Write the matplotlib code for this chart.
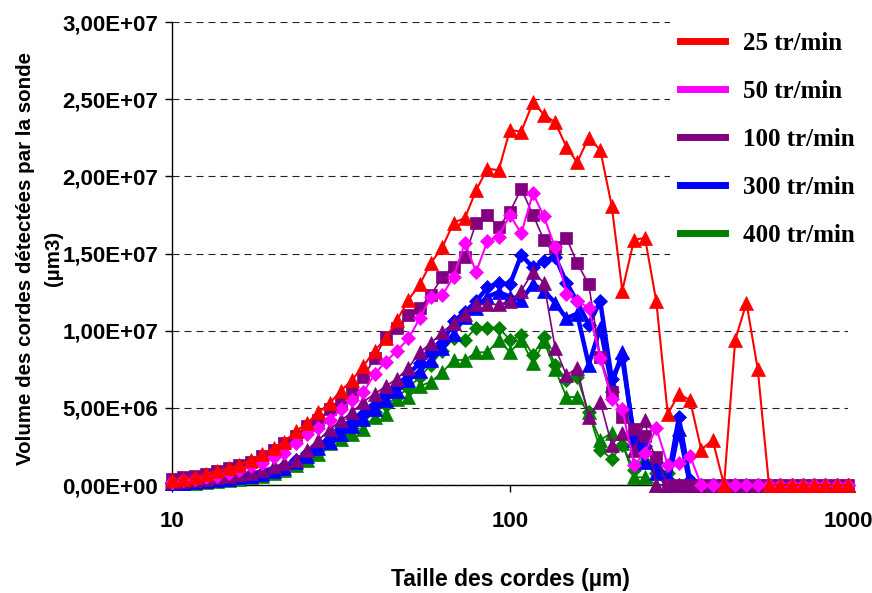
import matplotlib
matplotlib.use("Agg")
import matplotlib.pyplot as plt
from matplotlib.lines import Line2D
from matplotlib.ticker import NullLocator
from matplotlib.font_manager import FontProperties

# chord size channels (um), log spaced
x_um = [10.0, 10.8, 11.7, 12.6, 13.6, 14.7, 15.8, 17.1, 18.5, 20.0,
        21.5, 23.3, 25.1, 27.1, 29.3, 31.6, 34.1, 36.8, 39.8, 42.9,
        46.4, 50.1, 54.1, 58.4, 63.1, 68.1, 73.6, 79.4, 85.8, 92.6,
        100, 108, 117, 126, 136, 147, 158, 171, 185, 200,
        215, 233, 251, 271, 293, 316, 341, 368, 398, 430,
        464, 501, 541, 584, 631, 681, 736, 794, 858, 926, 1000]

# volumes in millions of um3
v_25 = [0.3, 0.4, 0.5, 0.7, 0.9, 1.1, 1.3, 1.6, 2.0, 2.4,
        2.8, 3.5, 4.0, 4.7, 5.3, 6.1, 6.8, 7.7, 8.7, 9.5,
        10.7, 12.0, 13.0, 14.4, 15.4, 17.0, 17.3, 19.1, 20.5, 20.4,
        23.0, 22.9, 24.8, 24.0, 23.5, 21.9, 20.9, 22.5, 21.7, 18.1,
        12.6, 15.9, 16.0, 11.9, 4.6, 5.9, 5.5, 2.3, 2.9, 0.0,
        9.4, 11.8, 7.5, 0.0, 0.0, 0.0, 0.0, 0.0, 0.0, 0.0, 0.0]
v_50 = [0.2, 0.3, 0.4, 0.5, 0.6, 0.8, 1.0, 1.2, 1.4, 1.8,
        2.1, 2.7, 3.3, 3.7, 4.2, 4.9, 5.5, 6.0, 7.2, 8.0,
        8.7, 9.5, 10.8, 12.2, 12.3, 13.5, 15.7, 13.8, 15.8, 16.1,
        17.5, 16.3, 18.9, 17.4, 15.4, 12.4, 11.9, 11.5, 8.2, 5.6,
        4.9, 1.3, 2.1, 3.7, 1.3, 1.4, 1.9, 0.0, 0.0, 0.0,
        0.0, 0.0, 0.0, 0.0, 0.0, 0.0, 0.0, 0.0, 0.0, 0.0, 0.0]
v_100a = [0.4, 0.5, 0.6, 0.7, 0.9, 1.1, 1.3, 1.5, 1.9, 2.3,
          2.7, 3.2, 3.8, 4.2, 4.9, 5.4, 6.0, 7.0, 8.2, 9.6,
          10.2, 11.0, 11.5, 12.3, 13.5, 14.1, 14.8, 17.0, 17.5, 16.7,
          17.7, 19.2, 17.5, 15.9, 15.4, 16.0, 14.4, 13.0, 8.3, 6.0,
          4.4, 3.6, 3.2, 1.8, 0.0, 0.0, 0.0, 0.0, 0.0, 0.0,
          0.0, 0.0, 0.0, 0.0, 0.0, 0.0, 0.0, 0.0, 0.0, 0.0, 0.0]
v_100b = [0.2, 0.25, 0.3, 0.4, 0.5, 0.6, 0.7, 0.8, 1.0, 1.2,
          1.4, 1.6, 2.3, 2.9, 3.6, 4.2, 4.7, 5.4, 5.9, 6.4,
          6.9, 7.6, 8.6, 9.2, 9.9, 10.5, 11.1, 11.7, 11.7, 11.7,
          11.9, 12.6, 13.8, 13.1, 8.9, 7.1, 7.6, 4.4, 5.4, 2.6,
          3.4, 2.3, 4.2, 0.0, 0.0, 0.0, 0.0, 0.0, 0.0, 0.0,
          0.0, 0.0, 0.0, 0.0, 0.0, 0.0, 0.0, 0.0, 0.0, 0.0, 0.0]
v_300a = [0.15, 0.2, 0.25, 0.3, 0.4, 0.5, 0.6, 0.7, 0.8, 1.0,
          1.2, 1.6, 2.1, 2.6, 3.0, 3.6, 4.1, 4.6, 5.2, 5.9,
          6.4, 7.2, 7.9, 8.6, 9.2, 10.6, 11.2, 11.9, 12.8, 13.1,
          13.0, 14.9, 14.1, 14.5, 14.8, 13.1, 11.9, 10.4, 11.9, 6.9,
          8.2, 3.1, 2.5, 1.5, 0.3, 4.4, 0.3, 0.0, 0.0, 0.0,
          0.0, 0.0, 0.0, 0.0, 0.0, 0.0, 0.0, 0.0, 0.0, 0.0, 0.0]
v_300b = [0.1, 0.15, 0.2, 0.25, 0.3, 0.4, 0.5, 0.6, 0.7, 0.9,
          1.1, 1.5, 1.9, 2.4, 2.8, 3.3, 3.8, 4.3, 4.9, 5.5,
          6.1, 6.8, 7.4, 8.1, 8.9, 9.8, 10.9, 11.5, 12.2, 12.5,
          12.2, 12.0, 13.0, 12.6, 11.8, 10.8, 11.1, 7.8, 10.2, 6.5,
          8.6, 2.9, 1.5, 0.8, 0.0, 3.6, 0.0, 0.0, 0.0, 0.0,
          0.0, 0.0, 0.0, 0.0, 0.0, 0.0, 0.0, 0.0, 0.0, 0.0, 0.0]
v_400a = [0.1, 0.15, 0.2, 0.25, 0.3, 0.4, 0.5, 0.6, 0.8, 1.0,
          1.2, 1.5, 1.9, 2.3, 2.9, 3.3, 3.7, 4.1, 4.7, 5.2,
          5.7, 6.3, 7.0, 7.8, 8.7, 9.5, 9.4, 10.2, 10.2, 10.2,
          9.4, 9.7, 8.4, 9.6, 7.8, 6.8, 7.0, 4.7, 2.3, 1.7,
          2.6, 1.0, 1.5, 0.8, 0.8, 0.0, 0.0, 0.0, 0.0, 0.0,
          0.0, 0.0, 0.0, 0.0, 0.0, 0.0, 0.0, 0.0, 0.0, 0.0, 0.0]
v_400b = [0.1, 0.12, 0.15, 0.2, 0.25, 0.3, 0.4, 0.5, 0.6, 0.8,
          1.0, 1.3, 1.6, 2.0, 2.7, 3.0, 3.3, 3.6, 4.4, 4.6,
          5.6, 5.7, 6.4, 6.7, 7.3, 8.1, 8.1, 8.6, 8.6, 9.4,
          8.6, 9.4, 7.9, 9.3, 7.5, 5.7, 5.7, 4.7, 2.9, 3.4,
          2.7, 0.5, 0.5, 0.0, 0.0, 0.0, 0.0, 0.0, 0.0, 0.0,
          0.0, 0.0, 0.0, 0.0, 0.0, 0.0, 0.0, 0.0, 0.0, 0.0, 0.0]

legend_labels = ["25 tr/min", "50 tr/min", "100 tr/min", "300 tr/min", "400 tr/min"]
legend_colors = ["#FF0000", "#FF00FF", "#800080", "#0000FF", "#008000"]

y_ticks = [0, 5e6, 1e7, 1.5e7, 2e7, 2.5e7, 3e7]
y_ticklabels = ["0,00E+00", "5,00E+06", "1,00E+07", "1,50E+07",
                "2,00E+07", "2,50E+07", "3,00E+07"]
x_ticks = [10, 100, 1000]
x_ticklabels = ["10", "100", "1000"]

# drawn bottom to top: (values, color, marker, markersize, linewidth)
series = [
    (v_400b, "#008000", "^", 10, 1.3),
    (v_400a, "#008000", "D", 7, 1.3),
    (v_300b, "#0000FF", "^", 10, 3.2),
    (v_300a, "#0000FF", "D", 7, 3.2),
    (v_100b, "#800080", "^", 10, 1.2),
    (v_100a, "#800080", "s", 8.5, 1.2),
    (v_50, "#FF00FF", "D", 7, 1.5),
    (v_25, "#FF0000", "^", 10, 1.5),
]

plt.rcParams['font.family'] = ['Liberation Sans', 'DejaVu Sans']

fig = plt.figure(figsize=(8.72, 5.93), dpi=100)
ax = fig.add_axes([0.1972, 0.1821, 0.7752, 0.7808])

for y in y_ticks:
    ax.axhline(y, color="#222222", lw=0.8, ls=(0, (6.3, 4.5)), zorder=0.5)

for i, (vals, col, mk, ms, lw) in enumerate(series):
    ax.plot(x_um, [v * 1e6 for v in vals], color=col, lw=lw, marker=mk,
            ms=ms, mec=col, mfc=col, mew=0.5, clip_on=False, zorder=2 + i)

ax.set_xscale("log")
ax.set_xlim(10, 1000)
ax.set_ylim(0, 3e7)
ax.set_xticks(x_ticks)
ax.set_xticklabels(x_ticklabels, fontsize=16, fontweight="bold")
ax.xaxis.set_minor_locator(NullLocator())
ax.set_yticks(y_ticks)
ax.set_yticklabels(y_ticklabels, fontsize=16, fontweight="bold")
ax.tick_params(axis="both", direction="out", length=5, width=1, color="black")
ax.tick_params(axis="x", pad=14)
ax.tick_params(axis="y", pad=5)

for side in ["top", "right"]:
    ax.spines[side].set_visible(False)
for side in ["left", "bottom"]:
    ax.spines[side].set_linewidth(1.0)
    ax.spines[side].set_zorder(1)

ax.set_xlabel("Taille des cordes (\u00b5m)", fontsize=16.5, fontweight="bold",
              va="center")
ax.xaxis.set_label_coords(0.50, -0.205)
ax.set_ylabel("Volume des cordes d\u00e9tect\u00e9es par la sonde\n(\u00b5m3)",
              fontsize=14.8, fontweight="bold", linespacing=1.55,
              va="center", ha="center", rotation=90)
ax.yaxis.set_label_coords(-0.196, 0.49)

handles = [Line2D([], [], color=c, lw=5) for c in legend_colors]
leg = ax.legend(handles, legend_labels, loc="upper left",
                bbox_to_anchor=(0.768, 0.963), bbox_transform=fig.transFigure,
                frameon=True, fancybox=False, edgecolor="none",
                facecolor="white", framealpha=1,
                prop=FontProperties(family="Liberation Serif", weight="bold", size=18),
                handlelength=1.8, handletextpad=0.72, labelspacing=1.0,
                borderpad=0.4, borderaxespad=0)
leg.set_zorder(20)

fig.savefig("out.png", dpi=100)
